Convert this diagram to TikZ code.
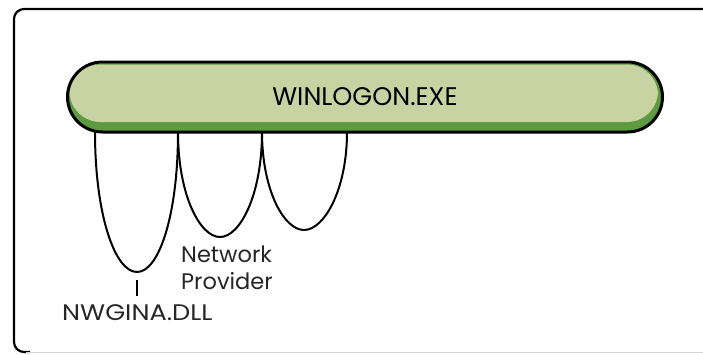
\documentclass[tikz,border=0pt]{standalone}
\usepackage{fontspec}
\setmainfont{Poppins}
\usetikzlibrary{shapes.misc,calc}
\definecolor{pillfill}{HTML}{C8D3A3}
\definecolor{pillshade}{HTML}{5E9A40}
\definecolor{framegray}{HTML}{D8D8D8}
\tikzset{
  wire/.style={line width=2pt, black},
  label/.style={inner sep=0pt, font=\fontsize{22.5}{27}\selectfont, text=black!85},
  pill/.style={rounded rectangle, draw=black, line width=3pt, minimum width=595pt,
               minimum height=70pt, inner sep=0pt, font=\fontsize{25.5}{28}\selectfont},
}
\begin{document}
\begin{tikzpicture}[x=1pt,y=-1pt,line join=round]
\useasboundingbox (0,0) rectangle (703,354);
% outer frame: dark top and left edge, pale bottom rule
\draw[line width=2.2pt, rounded corners=10pt] (720,9) -- (14,9) -- (14,352) -- (30,352);
\draw[framegray, line width=1.4pt] (26,352.3) -- (720,352.3);
% layered body of the process bar
\begin{scope}
  \clip[rounded corners=35pt] (67,62) rectangle (662,132);
  \fill[white] (60,55) rectangle (670,140);
  \fill[pillshade, rounded corners=35pt] (68.5,63.5) rectangle (663.5,133.5);
  \fill[pillfill, rounded corners=31pt] (69.5,64.5) rectangle (658,122);
\end{scope}
\node[pill] (winlogon) at (365,97) {WINLOGON.EXE};
% attachment points along the bar's lower edge
\coordinate (h1) at (95,132);
\coordinate (h2) at (178,132);
\coordinate (h3) at (262,132);
\coordinate (h4) at (347,132);
\coordinate (b1) at (137,272);
\coordinate (b2) at (220,237);
\coordinate (b3) at (304,230);
% hanging loops
\draw[wire] (h1) .. controls (95,215) and (115,272) .. (b1)
                 .. controls (159,272) and (178,215) .. (h2);
\draw[wire] (h2) .. controls (178,195) and (200,237) .. (b2)
                 .. controls (240,237) and (262,195) .. (h3);
\draw[wire] (h3) .. controls (262,190) and (284,230) .. (b3)
                 .. controls (324,230) and (347,190) .. (h4);
% labels
\node[label, anchor=base west] (nwgina) at (62,320) {\scalebox{1.14}[1]{NWGINA.DLL}};
\node[label, anchor=base west, align=left] (netprov) at (181,289) {Network\\Provider};
\coordinate (tick) at (137,280);
\coordinate (tickend) at (137,296);
\draw[line width=1.8pt] (tick) -- (tickend);
\end{tikzpicture}
\end{document}
